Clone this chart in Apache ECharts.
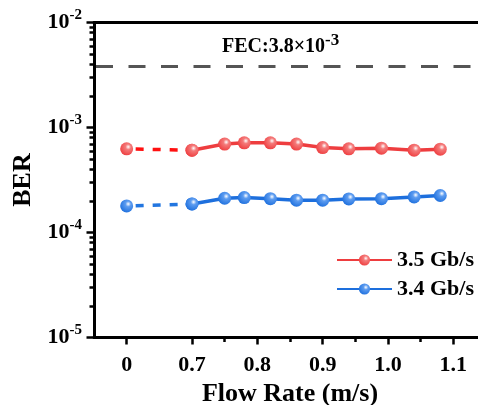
<!DOCTYPE html>
<html>
<head>
<meta charset="utf-8">
<script src="https://cdn.jsdelivr.net/npm/echarts@6/dist/echarts.min.js"></script>
<style>
html,body{margin:0;padding:0;background:#fff;}
#chart{width:478px;height:405px;}
</style>
</head>
<body>
<div id="chart"></div>
<script>
// ---- data ----
var flowRate = [0, 0.7, 0.75, 0.78, 0.82, 0.86, 0.9, 0.94, 0.99, 1.04, 1.08];
var ber35 = [6.26e-4, 6.08e-4, 6.95e-4, 7.15e-4, 7.15e-4, 6.95e-4, 6.44e-4, 6.26e-4, 6.36e-4, 6.08e-4, 6.22e-4];
var ber34 = [1.79e-4, 1.87e-4, 2.12e-4, 2.15e-4, 2.10e-4, 2.03e-4, 2.03e-4, 2.09e-4, 2.10e-4, 2.18e-4, 2.25e-4];
var seriesNames = ['3.5 Gb/s', '3.4 Gb/s'];
var xTickValues = [0, 0.7, 0.8, 0.9, 1.0, 1.1];
var xTickLabels = ['0', '0.7', '0.8', '0.9', '1.0', '1.1'];
var xMinorTicks = [0.75, 0.85, 0.95, 1.05];
var fecLimit = 3.8e-3;
var xRange = [0.55, 1.15];

// broken x axis: the 0 point sits one 0.1 step before 0.7
function xPos(v) { return v === 0 ? 0.6 : v; }

var FONT = 'Liberation Serif';
var RED = '#ee3d3f', RED_D = '#ff1010';
var BLUE = '#1d6fdd', BLUE_D = '#2276e0';

function ball(c, light) {
  return {
    type: 'radial', x: 0.62, y: 0.35, r: 0.7,
    colorStops: [
      {offset: 0, color: '#ffffff'},
      {offset: 0.3, color: light},
      {offset: 1, color: c}
    ]
  };
}
function pts(ys, from, to) {
  var out = [];
  for (var i = from; i < to; i++) out.push([xPos(flowRate[i]), ys[i]]);
  return out;
}

var minorLog = [];
for (var e = -5; e < -2; e++) for (var k = 2; k <= 9; k++) minorLog.push(e + Math.log10(k));

function solid(name, ys, c, light) {
  return {
    name: name, type: 'line', xAxisIndex: 0, yAxisIndex: 0,
    data: pts(ys, 1, ys.length),
    symbol: 'circle', symbolSize: 13,
    lineStyle: {color: c, width: 3.5},
    itemStyle: {color: ball(c, light)},
    z: 5
  };
}
function dashed(name, ys, c, cd, light) {
  return {
    name: name + ' ', type: 'line', xAxisIndex: 0, yAxisIndex: 0,
    data: pts(ys, 0, 2),
    symbol: 'circle', symbolSize: 13,
    lineStyle: {color: cd, width: 3.5, type: [8, 9], dashOffset: -9},
    itemStyle: {color: ball(c, light)},
    z: 4
  };
}

var fecSeries = {
  name: 'FEC', type: 'line', xAxisIndex: 0, yAxisIndex: 0,
  data: [[xRange[0], fecLimit], [xRange[1], fecLimit]],
  symbol: 'none', silent: true,
  lineStyle: {color: '#555555', width: 3, type: [17, 15.5], dashOffset: -2},
  z: 3
};

var option = {
  animation: false,
  backgroundColor: '#ffffff',
  grid: {left: 94, top: 22.5, height: 315, width: 392, outerBoundsMode: 'none', containLabel: false},
  legend: {
    data: seriesNames,
    left: 331, top: 244, orient: 'vertical',
    itemWidth: 55, itemHeight: 14, itemGap: 7,
    textStyle: {fontFamily: FONT, fontWeight: 'bold', fontSize: 22, color: '#000', lineHeight: 22}
  },
  xAxis: [
    {
      type: 'value', min: xRange[0], max: xRange[1], position: 'bottom',
      name: 'Flow Rate (m/s)', nameLocation: 'middle', nameGap: 44,
      nameTextStyle: {fontFamily: FONT, fontWeight: 'bold', fontSize: 26, color: '#000'},
      axisLine: {show: true, onZero: false, lineStyle: {color: '#000', width: 3}},
      axisTick: {show: true, length: 7, lineStyle: {width: 2.5, color: '#000'},
        customValues: xTickValues.map(xPos)},
      axisLabel: {
        customValues: xTickValues.map(xPos), margin: 17,
        fontFamily: FONT, fontWeight: 'bold', fontSize: 22, color: '#000',
        formatter: function (v) {
          for (var i = 0; i < xTickValues.length; i++) if (Math.abs(xPos(xTickValues[i]) - v) < 1e-6) return xTickLabels[i];
          return '';
        }
      },
      splitLine: {show: false}
    },
    {
      type: 'value', min: xRange[0], max: xRange[1], position: 'bottom',
      axisLine: {show: true, onZero: false, lineStyle: {color: 'rgba(0,0,0,0)', width: 0}},
      axisTick: {show: true, length: 4.5, lineStyle: {width: 2.5, color: '#000'}, customValues: xMinorTicks},
      axisLabel: {show: false},
      splitLine: {show: false}
    },
    {
      type: 'value', min: xRange[0], max: xRange[1], position: 'top',
      axisLine: {show: true, onZero: false, lineStyle: {color: '#000', width: 3}},
      axisTick: {show: false}, axisLabel: {show: false}, splitLine: {show: false}
    }
  ],
  yAxis: [
    {
      type: 'log', logBase: 10, min: 1e-5, max: 1e-2, position: 'left',
      name: 'BER', nameLocation: 'middle', nameGap: 55,
      nameTextStyle: {fontFamily: FONT, fontWeight: 'bold', fontSize: 26, color: '#000'},
      axisLine: {show: true, onZero: false, lineStyle: {color: '#000', width: 3}},
      axisTick: {show: true, length: 7.5, lineStyle: {width: 2.5, color: '#000'}},
      axisLabel: {
        margin: 12,
        formatter: function (v) {
          var ex = Math.round(Math.log10(v));
          return '{b|10}{s|' + ex + '}';
        },
        rich: {
          b: {fontFamily: FONT, fontWeight: 'bold', fontSize: 22, color: '#000', lineHeight: 22},
          s: {fontFamily: FONT, fontWeight: 'bold', fontSize: 15, color: '#000', lineHeight: 15, padding: [0, 0, 14, 0]}
        }
      },
      splitLine: {show: false}
    },
    {
      type: 'value', min: -5, max: -2, position: 'left',
      axisLine: {show: true, onZero: false, lineStyle: {color: 'rgba(0,0,0,0)', width: 0}},
      axisTick: {show: true, length: 4.5, lineStyle: {width: 2.5, color: '#000'}, customValues: minorLog},
      axisLabel: {show: false},
      splitLine: {show: false}
    }
  ],
  graphic: [
    {
      type: 'text', left: 222, top: 32, z: 10,
      style: {
        text: '{b|FEC:3.8×10}{s|-3}',
        rich: {
          b: {fontFamily: FONT, fontWeight: 'bold', fontSize: 20, fill: '#000', lineHeight: 20},
          s: {fontFamily: FONT, fontWeight: 'bold', fontSize: 17, fill: '#000', lineHeight: 17, padding: [0, 0, 13, 0]}
        }
      }
    }
  ],
  series: [
    fecSeries,
    dashed(seriesNames[0], ber35, RED, RED_D, '#f47a7a'),
    dashed(seriesNames[1], ber34, BLUE, BLUE_D, '#5d9cf0'),
    solid(seriesNames[0], ber35, RED, '#f47a7a'),
    solid(seriesNames[1], ber34, BLUE, '#5d9cf0')
  ]
};

var chart = echarts.init(document.getElementById('chart'), null, {renderer: 'canvas'});
chart.setOption(option);
</script>
</body>
</html>
